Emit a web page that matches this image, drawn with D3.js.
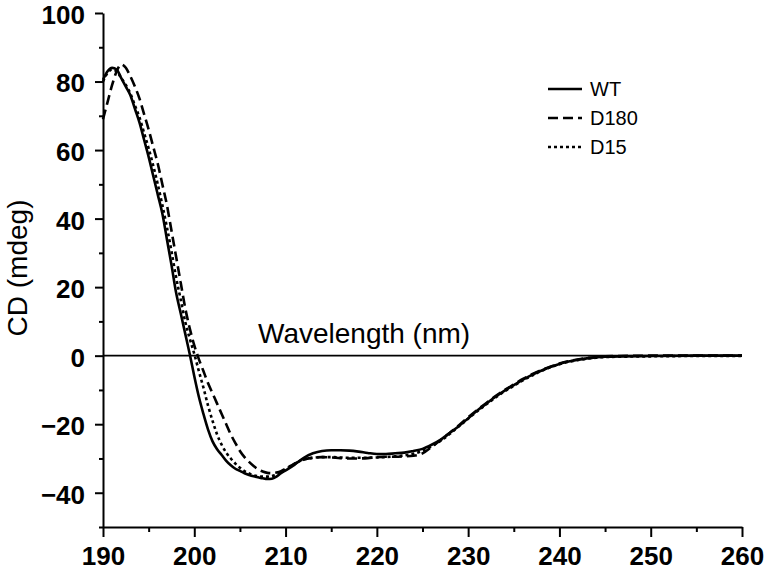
<!DOCTYPE html>
<html>
<head>
<meta charset="utf-8">
<script src="https://cdn.jsdelivr.net/npm/d3@7"></script>
<style>
  html, body { margin: 0; padding: 0; background: #fff; }
  svg { display: block; }
  text { font-family: "Liberation Sans", Arial, sans-serif; fill: #000; }
</style>
</head>
<body>
<svg id="chart" width="767" height="571"></svg>
<script>
const wavelength = [
  190,190.5,191,191.5,192,192.5,193,193.5,194,194.5,
  195,195.5,196,196.5,197,197.5,198,198.5,199,199.5,
  200,200.5,201,201.5,202,202.5,203,203.5,204,204.5,
  205,205.5,206,206.5,207,207.5,208,208.5,209,209.5,
  210,211,212,213,214,215,216,217,218,219,
  220,221,222,223,224,225,226,227,228,229,
  230,231,232,233,234,235,236,237,238,239,
  240,241,242,243,244,245,250,255,260
];
const wt = [
  80.5,83,84,83.5,81,78.5,76,72,68,63,
  58,52.5,47,41.5,34,26.5,18.5,12.5,6.5,0.5,
  -6,-12,-17,-21.5,-25,-27.3,-29,-30.7,-32,-33,
  -33.6,-34.3,-34.8,-35.2,-35.5,-35.8,-36,-35.9,-35.3,-34.3,
  -33.5,-31.8,-29.8,-28.5,-27.8,-27.6,-27.6,-27.7,-28,-28.4,
  -28.7,-28.7,-28.5,-28.3,-27.8,-27.2,-26,-24.5,-22.5,-20.5,
  -18.3,-16,-14,-12,-10.2,-8.6,-7,-5.6,-4.4,-3.3,
  -2.4,-1.7,-1.2,-0.8,-0.5,-0.3,-0.1,0,0
];
const d180 = [
  69,74,79,83,85,84,81.5,78.5,75,70.5,
  66,61,56,50,44,36.5,29,21.5,14,8,
  3,-1,-4.5,-8,-11,-14,-17,-20,-23,-25.5,
  -27.8,-29.6,-31,-32.2,-33.2,-33.8,-34.2,-34.3,-34.1,-33.7,
  -33,-31.5,-30.3,-29.8,-29.6,-29.7,-29.9,-30,-30,-29.9,
  -29.6,-29.5,-29.5,-29.4,-29.2,-28.5,-26.6,-24.6,-22.5,-20.3,
  -18,-15.8,-13.8,-11.8,-10,-8.4,-6.8,-5.4,-4.2,-3.2,
  -2.3,-1.6,-1.1,-0.7,-0.4,-0.2,0,0,0
];
const d15 = [
  80,82.5,83.5,83,81,79,76.5,73,69.5,65,
  60.5,55.5,50,44,37.5,30.5,23,16.5,10,5,
  0.5,-4.5,-9.3,-14.5,-19,-23,-26,-28.3,-30,-31.5,
  -32.7,-33.7,-34.4,-34.9,-35.2,-35.3,-35.3,-35.1,-34.7,-34,
  -33.2,-31.5,-30.3,-29.8,-29.6,-29.6,-29.7,-29.8,-29.8,-29.8,
  -29.7,-29.6,-29.4,-29.1,-28.6,-27.8,-26.4,-24.8,-22.8,-20.6,
  -18.4,-16.2,-14.2,-12.2,-10.4,-8.8,-7.2,-5.8,-4.5,-3.4,
  -2.5,-1.8,-1.3,-0.9,-0.6,-0.4,-0.2,-0.1,-0.1
];
const seriesNames = ["WT", "D180", "D15"];
const xMajorTicks = [190,200,210,220,230,240,250,260];
const xMinorTicks = [195,205,215,225,235,245,255];
const yMajorTicks = [-40,-20,0,20,40,60,80,100];
const yMinorTicks = [-50,-30,-10,10,30,50,70,90];

const series = [
  { name: seriesNames[0], values: wt,   dash: null },
  { name: seriesNames[1], values: d180, dash: "10,5" },
  { name: seriesNames[2], values: d15,  dash: "3,3" }
];

const svg = d3.select("#chart");
const x = d3.scaleLinear().domain([190, 260]).range([103, 742]);
const y = d3.scaleLinear().domain([-50, 100]).range([527, 13]);

// zero line
svg.append("line")
  .attr("x1", x(190)).attr("x2", x(260))
  .attr("y1", y(0)).attr("y2", y(0))
  .attr("stroke", "#000").attr("stroke-width", 1.6);

// curves
const line = d3.line()
  .x((d, i) => x(wavelength[i]))
  .y(d => y(d))
  .curve(d3.curveMonotoneX);

series.forEach(s => {
  svg.append("path")
    .datum(s.values)
    .attr("d", line)
    .attr("fill", "none")
    .attr("stroke", "#000")
    .attr("stroke-width", 2.6)
    .attr("stroke-dasharray", s.dash);
});

// axes
const tickFont = g => g.selectAll("text")
  .style("font-family", "'Liberation Sans', Arial, sans-serif")
  .style("font-size", "26px")
  .style("font-weight", "bold")
  .attr("fill", "#000");

const gx = svg.append("g").attr("transform", `translate(0,${y(-50)})`)
  .call(d3.axisBottom(x).tickValues(xMajorTicks).tickSize(10).tickSizeOuter(0).tickPadding(10).tickFormat(d3.format("d")));
gx.call(tickFont);
gx.select(".domain").attr("stroke-width", 2);
gx.selectAll(".tick line").attr("stroke-width", 2);

const gxm = svg.append("g").attr("transform", `translate(0,${y(-50)})`)
  .call(d3.axisBottom(x).tickValues(xMinorTicks).tickSize(5).tickFormat(""));
gxm.select(".domain").remove();
gxm.selectAll(".tick line").attr("stroke-width", 2);

const gy = svg.append("g").attr("transform", `translate(${x(190)},0)`)
  .call(d3.axisLeft(y).tickValues(yMajorTicks).tickSize(8).tickSizeOuter(0).tickPadding(10).tickFormat(d3.format("d")));
gy.call(tickFont);
gy.selectAll(".tick text").attr("dy", "0.4em");
gy.select(".domain").attr("stroke-width", 2);
gy.selectAll(".tick line").attr("stroke-width", 2);

const gym = svg.append("g").attr("transform", `translate(${x(190)},0)`)
  .call(d3.axisLeft(y).tickValues(yMinorTicks).tickSize(4).tickFormat(""));
gym.select(".domain").remove();
gym.selectAll(".tick line").attr("stroke-width", 2);

// axis titles
svg.append("text")
  .attr("x", 258).attr("y", 343)
  .style("font-size", "28px")
  .text("Wavelength (nm)");

svg.append("text")
  .attr("transform", "translate(27,268) rotate(-90)")
  .attr("text-anchor", "middle")
  .style("font-size", "28px")
  .text("CD (mdeg)");

// legend
const legendY = [89, 118, 147];
series.forEach((s, i) => {
  svg.append("line")
    .attr("x1", 548).attr("x2", 582)
    .attr("y1", legendY[i]).attr("y2", legendY[i])
    .attr("stroke", "#000").attr("stroke-width", 2.4)
    .attr("stroke-dasharray", s.dash);
  svg.append("text")
    .attr("x", 590).attr("y", legendY[i])
    .attr("dy", "0.35em")
    .style("font-size", "20px")
    .text(s.name);
});
</script>
</body>
</html>
